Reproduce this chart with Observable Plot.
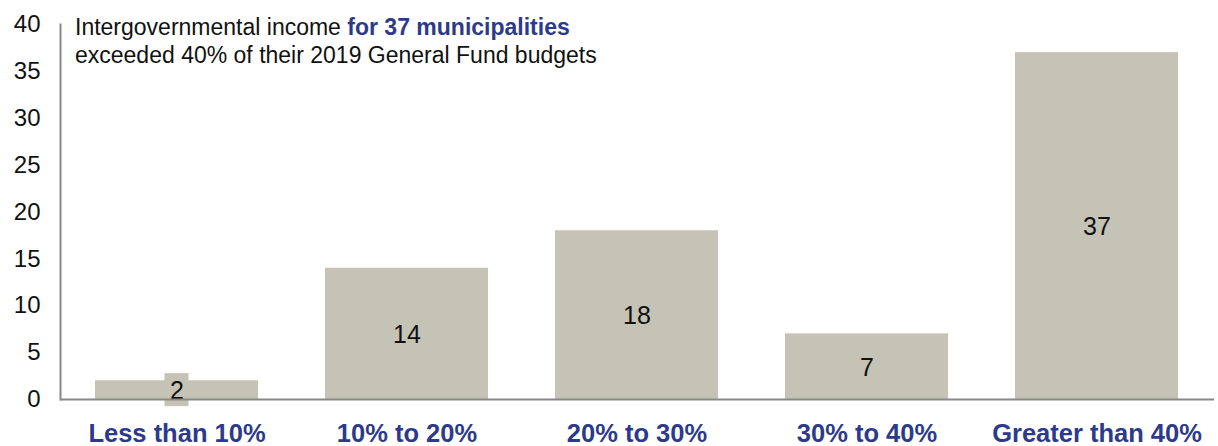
<!DOCTYPE html>
<html>
<head>
<meta charset="utf-8">
<script src="https://cdn.jsdelivr.net/npm/d3@7"></script>
<script src="https://cdn.jsdelivr.net/npm/@observablehq/plot@0.6"></script>
<style>
  html, body { margin: 0; padding: 0; background: #fff; }
  #wrap { position: relative; width: 1218px; height: 446px; font-family: "Liberation Sans", Arial, sans-serif; }
  #note { position: absolute; left: 75px; top: 13px; font-size: 23px; line-height: 28px; color: #111; white-space: nowrap; }
  #note b { color: #2D3A8C; }
</style>
</head>
<body>
<div id="wrap">
  <div id="chart"></div>
  <div id="note">Intergovernmental income <b>for 37 municipalities</b><br>exceeded 40% of their 2019 General Fund budgets</div>
</div>
<script>
const categories = ["Less than 10%", "10% to 20%", "20% to 30%", "30% to 40%", "Greater than 40%"];
const counts = [2, 14, 18, 7, 37];
const yTicks = [0, 5, 10, 15, 20, 25, 30, 35, 40];

const data = categories.map((c, i) => ({category: c, count: counts[i]}));
const barColor = "#C4C3B5";
// labels on bars too short to hold them get a small background box
const shortBars = data.filter(d => d.count < 4);

const plot = Plot.plot({
  width: 1218,
  height: 446,
  marginLeft: 60,
  marginRight: 4,
  marginTop: 24,
  marginBottom: 47,
  style: {fontFamily: "Liberation Sans, Arial, sans-serif", background: "#fff"},
  x: {domain: categories, paddingInner: 0.29, paddingOuter: 0.145, label: null},
  y: {domain: [0, 40], label: null},
  marks: [
    Plot.barY(data, {x: "category", y: "count", fill: barColor}),
    Plot.barY(shortBars, {x: "category", y1: d => d.count / 2 - 1.76, y2: d => d.count / 2 + 1.76, fill: barColor, insetLeft: 69.5, insetRight: 69.5}),
    Plot.text(data, {x: "category", y: d => d.count / 2, dy: 1, text: d => String(d.count), fontSize: 25, fill: "#111"}),
    Plot.axisY({ticks: yTicks, tickSize: 0, tickPadding: 20, fontSize: 24, fill: "#111", label: null}),
    Plot.axisX({tickSize: 0, tickPadding: 24, fontSize: 25.5, fontWeight: "bold", fill: "#2D3A8C", label: null}),
    Plot.frame({anchor: "left", stroke: "#888", strokeWidth: 2}),
    Plot.ruleY([0], {stroke: "#888", strokeWidth: 2})
  ]
});
document.getElementById("chart").appendChild(plot);
</script>
</body>
</html>
